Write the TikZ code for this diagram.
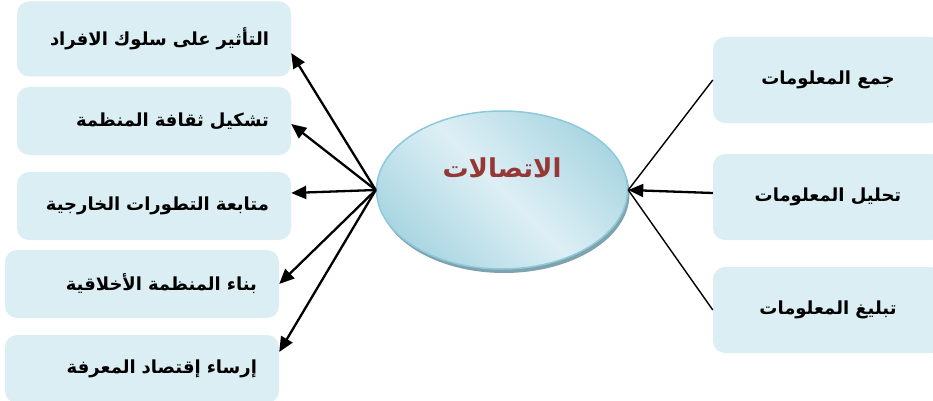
\documentclass[tikz,border=0pt]{standalone}
\usepackage{fontspec}
\newfontfamily\arabicfont[Script=Arabic]{DejaVu Sans}
\TeXXeTstate=1
\usetikzlibrary{arrows.meta,shapes.geometric,shadows}

\definecolor{cajaazul}{HTML}{DAEEF3}
\definecolor{elipclaro}{HTML}{DDEFF5}
\definecolor{eliposcuro}{HTML}{AAD6E2}
\definecolor{elipborde}{HTML}{8CC9DA}
\definecolor{sombra}{HTML}{7FA2AD}
\definecolor{titulorojo}{HTML}{953735}

\begin{document}
\begin{tikzpicture}[x=1pt,y=-1pt,>={Triangle[length=15pt,width=13pt]},
    caja/.style={fill=cajaazul,rounded corners=12pt,inner xsep=22pt,inner ysep=0pt,
        font=\arabicfont\bfseries\fontsize{18}{22}\selectfont},
    cajaizq/.style={caja,text width=230pt,align=right},
    cajader/.style={caja,minimum width=230pt,minimum height=86pt,align=center},
    elipse/.style={ellipse,draw=elipborde,line width=1.5pt,inner sep=0pt,
        minimum width=251pt,minimum height=158pt,
        top color=eliposcuro,bottom color=eliposcuro,middle color=elipclaro,shading angle=135,
        drop shadow={shadow xshift=2pt,shadow yshift=-4pt,fill=sombra,opacity=1}},
    titulo/.style={text=titulorojo,font=\arabicfont\bfseries\fontsize{26}{30}\selectfont},
    flecha/.style={->,line width=2.3pt},
    linea/.style={line width=1.4pt}]

    \useasboundingbox (0,0) rectangle (933,401);
    \clip (0,0) rectangle (933,401);

    %Elipse
    \node[elipse] (elip) at (502,190) {};
    \node[titulo] (tit) at ([yshift=22pt]elip.center) {\beginR الاتصالات\endR};

    %Cajas izquierda
    \foreach \i/\x/\y/\h/\t in {1/154/39/75/{التأثير على سلوك الافراد},
                                2/154/121/68/{تشكيل ثقافة المنظمة},
                                3/154/206/68/{متابعة التطورات الخارجية},
                                4/142/284/68/{بناء المنظمة الأخلاقية},
                                5/142/369/68/{إرساء إقتصاد المعرفة}}{
        \node[cajaizq,minimum height=\h pt] (cajaI\i) at (\x,\y) {\beginR\t\endR};
    }

    %Cajas derecha
    \foreach \i/\y/\t in {1/80/{جمع المعلومات},
                          2/197/{تحليل المعلومات},
                          3/310/{تبليغ المعلومات}}{
        \node[cajader] (cajaD\i) at (828,\y) {\beginR\t\endR};
    }

    %Flechas
    \foreach \i/\d in {1/-14,2/-3,3/13,4/0,5/17}{
        \draw[flecha] (elip.west) -- ([yshift=\d pt]cajaI\i.east);
    }
    \draw[linea] (cajaD1.west) -- (elip.east);
    \draw[flecha] ([yshift=4pt]cajaD2.west) -- (elip.east);
    \draw[linea] (cajaD3.west) -- (elip.east);

\end{tikzpicture}
\end{document}
